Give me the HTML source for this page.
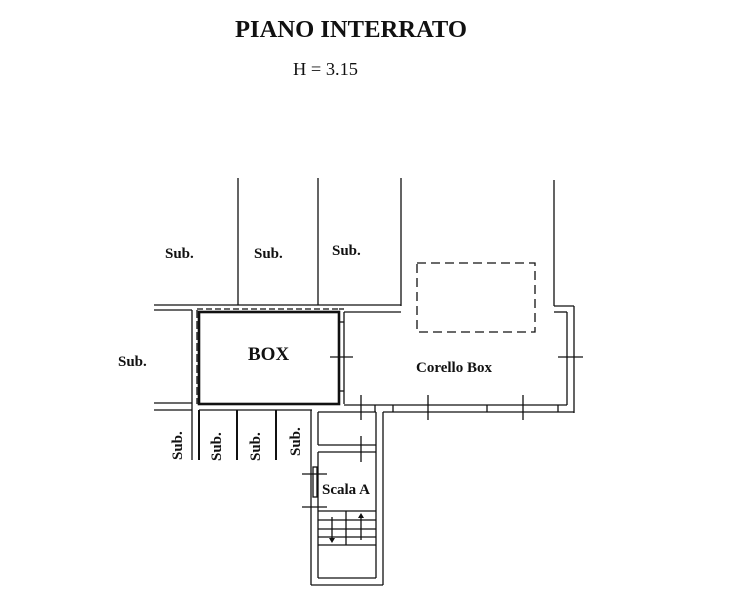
<!DOCTYPE html>
<html><head><meta charset="utf-8"><style>
html,body{margin:0;padding:0;background:#fff;width:729px;height:600px;overflow:hidden}
svg{display:block}
text{font-family:"Liberation Serif",serif;fill:#111}
</style></head><body>
<svg width="729" height="600" viewBox="0 0 729 600" xmlns="http://www.w3.org/2000/svg">
<text x="235" y="37" font-size="24" font-weight="bold" textLength="232" lengthAdjust="spacingAndGlyphs">PIANO INTERRATO</text>
<text x="293" y="75" font-size="18" textLength="65" lengthAdjust="spacingAndGlyphs">H = 3.15</text>
<g stroke="#111" fill="none" stroke-width="1.3">
<line x1="238" y1="178" x2="238" y2="305"/>
<line x1="318" y1="178" x2="318" y2="305"/>
<line x1="401" y1="178" x2="401" y2="306"/>
<line x1="554" y1="180" x2="554" y2="306"/>
<line x1="154" y1="305" x2="401" y2="305"/>
<line x1="154" y1="310" x2="192" y2="310"/>
<line x1="197" y1="309" x2="341" y2="309" stroke-dasharray="6,3"/>
<line x1="192" y1="310" x2="192" y2="460"/>
<line x1="197" y1="310" x2="197" y2="404" stroke-dasharray="8,3"/>
<line x1="154" y1="403" x2="192" y2="403"/>
<line x1="154" y1="410" x2="192" y2="410"/>
<rect x="199" y="312" width="140" height="92" stroke-width="2.6"/>
<line x1="339" y1="309" x2="344" y2="309"/>
<line x1="339" y1="322" x2="344" y2="322"/>
<line x1="339" y1="391" x2="344" y2="391"/>
<line x1="344" y1="312" x2="344" y2="404"/>
<line x1="330" y1="357" x2="353" y2="357"/>
<line x1="344" y1="312" x2="401" y2="312"/>
<line x1="554" y1="306" x2="574" y2="306"/>
<line x1="554" y1="312" x2="567" y2="312"/>
<line x1="574" y1="306" x2="574" y2="413"/>
<line x1="567" y1="312" x2="567" y2="405"/>
<line x1="344" y1="405" x2="567" y2="405"/>
<line x1="383" y1="412" x2="574" y2="412"/>
<line x1="558" y1="357" x2="583" y2="357"/>
<line x1="361" y1="395" x2="361" y2="420"/>
<line x1="428" y1="395" x2="428" y2="420"/>
<line x1="523" y1="395" x2="523" y2="420"/>
<line x1="375" y1="405" x2="375" y2="412"/>
<line x1="393" y1="405" x2="393" y2="412"/>
<line x1="487" y1="405" x2="487" y2="412"/>
<line x1="558" y1="405" x2="558" y2="412"/>
<rect x="417" y="263" width="118" height="69" stroke-dasharray="9,5"/>
<line x1="199" y1="410" x2="312" y2="410"/>
<line x1="199" y1="410" x2="199" y2="460" stroke-width="2"/>
<line x1="237" y1="410" x2="237" y2="460" stroke-width="2"/>
<line x1="276" y1="410" x2="276" y2="460" stroke-width="2"/>
<line x1="311" y1="410" x2="311" y2="585"/>
<line x1="311" y1="585" x2="383" y2="585"/>
<line x1="383" y1="412" x2="383" y2="585"/>
<line x1="318" y1="412" x2="318" y2="445"/>
<line x1="318" y1="445" x2="376" y2="445"/>
<line x1="318" y1="412" x2="376" y2="412"/>
<line x1="376" y1="412" x2="376" y2="578"/>
<line x1="318" y1="452" x2="376" y2="452"/>
<line x1="318" y1="452" x2="318" y2="578"/>
<line x1="318" y1="578" x2="376" y2="578"/>
<rect x="313" y="467" width="4" height="30"/>
<line x1="302" y1="474" x2="327" y2="474"/>
<line x1="302" y1="507" x2="327" y2="507"/>
<line x1="361" y1="436" x2="361" y2="462"/>
<line x1="318" y1="511" x2="376" y2="511"/>
<line x1="318" y1="520" x2="376" y2="520"/>
<line x1="318" y1="529" x2="376" y2="529"/>
<line x1="318" y1="537" x2="376" y2="537"/>
<line x1="318" y1="545" x2="376" y2="545"/>
<line x1="346" y1="511" x2="346" y2="545"/>
<line x1="332" y1="517" x2="332" y2="540"/>
<line x1="361" y1="515" x2="361" y2="540"/>
</g>
<path d="M329,538 L335,538 L332,543Z M358,518 L364,518 L361,513Z" fill="#111"/>
<g font-weight="bold" font-size="15">
<text x="165" y="258">Sub.</text>
<text x="254" y="258">Sub.</text>
<text x="332" y="255">Sub.</text>
<text x="118" y="366">Sub.</text>
<text x="248" y="360" font-size="19">BOX</text>
<text x="416" y="372" font-size="15">Corello Box</text>
<text x="322" y="494" font-size="15">Scala A</text>
<text transform="translate(182,460) rotate(-90)">Sub.</text>
<text transform="translate(221,461) rotate(-90)">Sub.</text>
<text transform="translate(260,461) rotate(-90)">Sub.</text>
<text transform="translate(300,456) rotate(-90)">Sub.</text>
</g>
</svg>
</body></html>
